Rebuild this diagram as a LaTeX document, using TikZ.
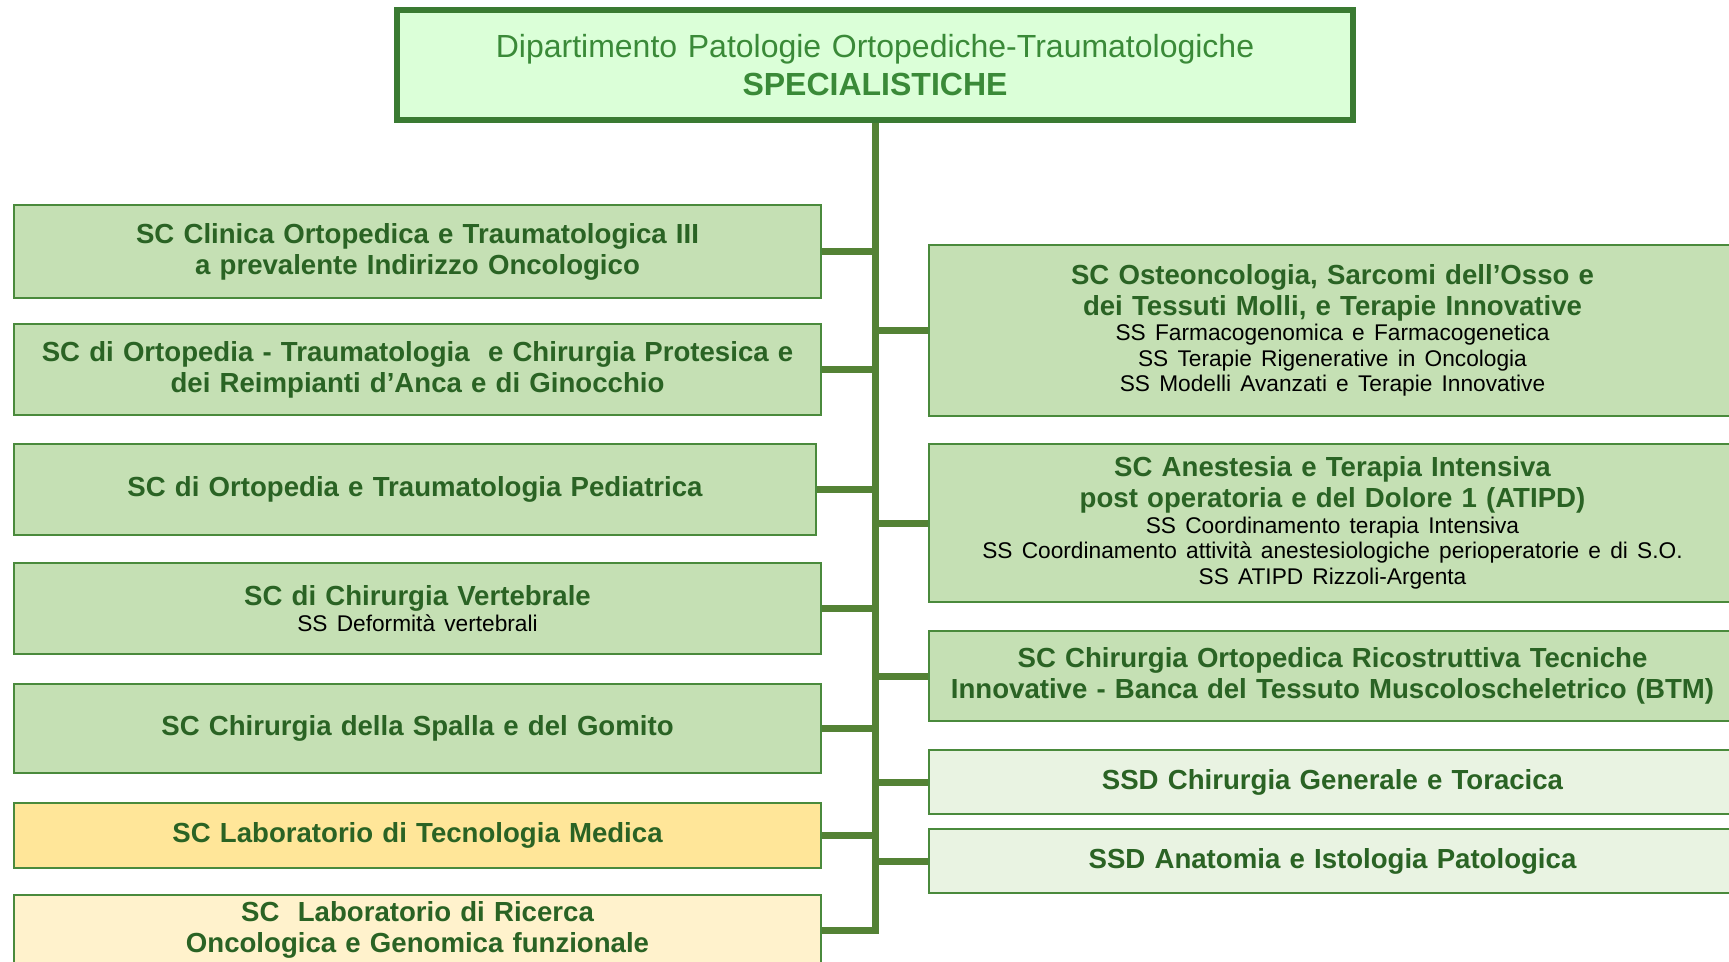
\documentclass[tikz,border=0pt]{standalone}
\usepackage{fontspec}
\setmainfont{Liberation Sans}
\usepackage{tikz}
\usetikzlibrary{positioning}
\usepackage{xcolor}

\definecolor{headline}{HTML}{3A7A32}
\definecolor{headfill}{HTML}{DBFFD8}
\definecolor{headtext}{HTML}{3A8A38}
\definecolor{trunkgreen}{HTML}{548235}
\definecolor{boxline}{HTML}{4A8A3C}
\definecolor{unitfill}{HTML}{C5E0B4}
\definecolor{unittext}{HTML}{2A6324}
\definecolor{labfill}{HTML}{FFE699}
\definecolor{resfill}{HTML}{FFF2CC}
\definecolor{ssdfill}{HTML}{E9F3E2}

\newcommand{\unitname}[1]{{\bfseries\fontsize{27.6}{31}\selectfont #1\par}}
\newcommand{\subunits}[1]{{\color{black}\mdseries\fontsize{22.7}{25.5}\selectfont #1\par}}

\tikzset{
  headbox/.style={rectangle, draw=headline, line width=6pt, fill=headfill, text=headtext,
    text width=940pt, inner xsep=8pt, align=center, font=\fontsize{32}{38.6}\selectfont},
  unitbox/.style={rectangle, draw=boxline, line width=2pt, fill=unitfill, text=unittext,
    text width=793pt, inner xsep=7pt, inner ysep=2pt, align=center,
    font=\bfseries\fontsize{27.6}{31}\selectfont},
  branch/.style={draw=trunkgreen, line width=7pt}
}

\begin{document}
\begin{tikzpicture}[x=1pt, y=-1pt]
\useasboundingbox (0,0) rectangle (1729,961);

\node[headbox, minimum height=110pt] (dept_head) at (875,65) {Dipartimento Patologie Ortopediche-Traumatologiche\\{\bfseries SPECIALISTICHE}};

% left column
\node[unitbox, anchor=north west, minimum height=93pt] (sc_clinica) at (13,204) {SC Clinica Ortopedica e Traumatologica III\\a prevalente Indirizzo Oncologico};
\node[unitbox, below = 24pt of sc_clinica.south west, anchor=north west, minimum height=91pt] (sc_protesica) {SC di Ortopedia - Traumatologia~ e Chirurgia Protesica e\\dei Reimpianti d’Anca e di Ginocchio};
\node[unitbox, below = 27pt of sc_protesica.south west, anchor=north west, minimum height=91pt, text width=788pt] (sc_pediatrica) {SC di Ortopedia e Traumatologia Pediatrica};
\node[unitbox, below = 26pt of sc_pediatrica.south west, anchor=north west, minimum height=91pt] (sc_vertebrale) {\unitname{SC di Chirurgia Vertebrale}\subunits{SS Deformità vertebrali}};
\node[unitbox, below = 28pt of sc_vertebrale.south west, anchor=north west, minimum height=89pt] (sc_spalla) {SC Chirurgia della Spalla e del Gomito};
\node[unitbox, below = 28pt of sc_spalla.south west, anchor=north west, minimum height=65pt, fill=labfill] (lab_tecnologia) {SC Laboratorio di Tecnologia Medica};
\node[unitbox, below = 25pt of lab_tecnologia.south west, anchor=north west, minimum height=70pt, fill=resfill] (lab_ricerca) {SC~ Laboratorio di Ricerca\\Oncologica e Genomica funzionale};

% right column
\node[unitbox, anchor=north west, minimum height=171pt] (sc_osteo) at (928,244) {\unitname{SC Osteoncologia, Sarcomi dell’Osso e\\dei Tessuti Molli, e Terapie Innovative}\subunits{SS Farmacogenomica e Farmacogenetica\\SS Terapie Rigenerative in Oncologia\\SS Modelli Avanzati e Terapie Innovative}};
\node[unitbox, below = 26pt of sc_osteo.south west, anchor=north west, minimum height=158pt] (sc_anestesia) {\unitname{SC Anestesia e Terapia Intensiva\\post operatoria e del Dolore 1 (ATIPD)}\subunits{SS Coordinamento terapia Intensiva\\SS Coordinamento attività anestesiologiche perioperatorie e di S.O.\\SS ATIPD Rizzoli-Argenta}};
\node[unitbox, below = 27pt of sc_anestesia.south west, anchor=north west, minimum height=90pt] (sc_ricostruttiva) {SC Chirurgia Ortopedica Ricostruttiva Tecniche\\Innovative - Banca del Tessuto Muscoloscheletrico (BTM)};
\node[unitbox, below = 27pt of sc_ricostruttiva.south west, anchor=north west, minimum height=64pt, fill=ssdfill] (ssd_toracica) {SSD Chirurgia Generale e Toracica};
\node[unitbox, below = 13pt of ssd_toracica.south west, anchor=north west, minimum height=64pt, fill=ssdfill] (ssd_anatomia) {SSD Anatomia e Istologia Patologica};

% trunk and branches
\draw[branch] (dept_head.south) -- (lab_ricerca.east -| dept_head.south) -- (lab_ricerca.east);
\path[branch] (sc_clinica.east) edge (sc_clinica.east -| dept_head.south)
  (sc_protesica.east) edge (sc_protesica.east -| dept_head.south)
  (sc_pediatrica.east) edge (sc_pediatrica.east -| dept_head.south)
  (sc_vertebrale.east) edge (sc_vertebrale.east -| dept_head.south)
  (sc_spalla.east) edge (sc_spalla.east -| dept_head.south)
  (lab_tecnologia.east) edge (lab_tecnologia.east -| dept_head.south);
\path[branch] (sc_osteo.west -| dept_head.south) edge (sc_osteo.west)
  (sc_anestesia.west -| dept_head.south) edge (sc_anestesia.west)
  (sc_ricostruttiva.west -| dept_head.south) edge (sc_ricostruttiva.west)
  (ssd_toracica.west -| dept_head.south) edge (ssd_toracica.west)
  (ssd_anatomia.west -| dept_head.south) edge (ssd_anatomia.west);
\end{tikzpicture}
\end{document}
